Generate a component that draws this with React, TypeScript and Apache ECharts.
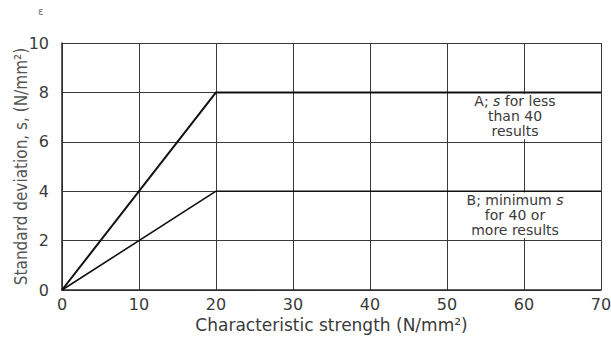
import React, { useEffect, useRef } from "react";
import * as echarts from "echarts";

// Characteristic strength (N/mm²) vs standard deviation s (N/mm²)
const strengthA = [0, 20, 70];
const deviationA = [0, 8, 8];
const strengthB = [0, 20, 70];
const deviationB = [0, 4, 4];

const xTicks = [0, 10, 20, 30, 40, 50, 60, 70];
const yTicks = [0, 2, 4, 6, 8, 10];

const labelA = "A; {i|s} for less\nthan 40\nresults";
const labelB = "B; minimum {i|s}\nfor 40 or\nmore results";

const ink = "#2b2b2b";
const grey = "#3a3a3a";
const wideFont = "'DejaVu Sans', sans-serif";
const narrowFont = "'Liberation Sans Narrow', 'DejaVu Sans Condensed', 'Roboto', sans-serif";

const pairs = (xs: number[], ys: number[]) => xs.map((x, i) => [x, ys[i]]);

const noteArea = (text: string, yTop: number, yBottom: number) => ({
  silent: true,
  itemStyle: { color: "#ffffff" },
  label: {
    show: true,
    position: "inside",
    offset: [-9, 0],
    formatter: text,
    color: grey,
    fontFamily: wideFont,
    fontSize: 14,
    lineHeight: 15,
    align: "center",
    rich: {
      i: { fontStyle: "italic", fontFamily: wideFont, fontSize: 14, color: grey, lineHeight: 15 },
    },
  },
  data: [[{ coord: [50.3, yTop] }, { coord: [69.7, yBottom] }]],
});

export default function App() {
  const ref = useRef<HTMLDivElement>(null);

  useEffect(() => {
    if (!ref.current) return;
    const chart = echarts.init(ref.current, undefined, { renderer: "svg" });
    chart.setOption({
      animation: false,
      backgroundColor: "#ffffff",
      grid: {
        left: 62,
        top: 43,
        right: 10,
        bottom: 47,
        show: false,
        containLabel: false,
        outerBoundsMode: "none",
      },
      graphic: [
        {
          type: "text",
          left: 38,
          top: 6,
          style: { text: "ɛ", fontSize: 10, fill: "#666", fontFamily: wideFont },
        },
      ],
      xAxis: {
        type: "value",
        min: xTicks[0],
        max: xTicks[xTicks.length - 1],
        interval: 10,
        name: "Characteristic strength (N/mm²)",
        nameLocation: "middle",
        nameGap: 26,
        nameMoveOverlap: false,
        nameTextStyle: { color: grey, fontFamily: wideFont, fontSize: 17 },
        axisLine: { show: true, lineStyle: { color: ink, width: 1.5 } },
        axisTick: { show: false },
        axisLabel: { color: grey, fontFamily: wideFont, fontSize: 16, margin: 6 },
        splitLine: { show: true, lineStyle: { color: grey, width: 1 } },
      },
      yAxis: {
        type: "value",
        min: yTicks[0],
        max: yTicks[yTicks.length - 1],
        interval: 2,
        name: "Standard deviation, s, (N/mm²)",
        nameLocation: "middle",
        nameGap: 33,
        nameMoveOverlap: false,
        nameTextStyle: { color: "#555", fontFamily: narrowFont, fontSize: 17 },
        axisLine: { show: true, lineStyle: { color: ink, width: 1.5 } },
        axisTick: { show: false },
        axisLabel: { color: grey, fontFamily: wideFont, fontSize: 16, margin: 13 },
        splitLine: { show: true, lineStyle: { color: grey, width: 1 } },
      },
      series: [
        {
          name: "A",
          type: "line",
          data: pairs(strengthA, deviationA),
          showSymbol: false,
          lineStyle: { color: "#111", width: 2 },
          markArea: noteArea(labelA, 7.95, 6.1),
          z: 3,
        },
        {
          name: "B",
          type: "line",
          data: pairs(strengthB, deviationB),
          showSymbol: false,
          lineStyle: { color: "#111", width: 1.6 },
          markArea: noteArea(labelB, 3.95, 2.1),
          z: 3,
        },
      ],
    });
    return () => chart.dispose();
  }, []);

  return (
    <div
      ref={ref}
      style={{ position: "fixed", left: 0, top: 0, width: 611, height: 337 }}
    />
  );
}
